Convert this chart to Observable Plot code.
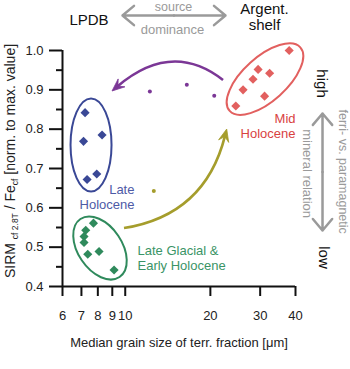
<!DOCTYPE html>
<html><head><meta charset="utf-8">
<script src="https://cdn.jsdelivr.net/npm/d3@7"></script>
<script src="https://cdn.jsdelivr.net/npm/@observablehq/plot@0.6"></script>
<style>body{margin:0;background:#fff}</style>
</head><body><div id="chart"></div>
<script>
// ---- axis ticks ----
const xTicks = [6, 7, 8, 9, 10, 20, 30, 40];
const yTicks = [0.4, 0.5, 0.6, 0.7, 0.8, 0.9, 1.0];
const yMinorTicks = [0.45, 0.55, 0.65, 0.75, 0.85, 0.95];

// ---- data: median grain size [µm] vs SIRM/Fe ratio ----
const midHoloceneGrain = [38.0, 29.5, 32.4, 28.3, 26.1, 31.1, 24.6];
const midHoloceneRatio = [1.0, 0.952, 0.942, 0.927, 0.900, 0.884, 0.859];
const lateHoloceneGrain = [7.21, 7.12, 8.28, 7.33, 7.93];
const lateHoloceneRatio = [0.842, 0.769, 0.785, 0.672, 0.686];
const lateGlacialGrain = [7.72, 7.25, 7.15, 7.15, 7.37, 8.08, 9.13];
const lateGlacialRatio = [0.561, 0.543, 0.527, 0.512, 0.482, 0.489, 0.442];
// intermediate samples (small dots)
const transitionGrain = [12.22, 16.51, 20.64];
const transitionRatio = [0.896, 0.913, 0.885];
const earlyMidGrain = [12.62];
const earlyMidRatio = [0.643];

const C = {
  red: "#e2605f", redText: "#d9423f",
  blue: "#3a4896", blueText: "#4d5aa6",
  green: "#2f8a5c", greenText: "#3a9466",
  purple: "#7b3796", olive: "#a59d2c", gray: "#9a9a9a"
};

const toRows = (xs, ys) => xs.map((x, i) => ({x, y: ys[i]}));
const midRows = toRows(midHoloceneGrain, midHoloceneRatio);
const lateRows = toRows(lateHoloceneGrain, lateHoloceneRatio);
const glacialRows = toRows(lateGlacialGrain, lateGlacialRatio);
const transRows = toRows(transitionGrain, transitionRatio);
const earlyRows = toRows(earlyMidGrain, earlyMidRatio);

// ---- annotations (data units) ----
const ellipses = [
  {x: 31.33, y: 0.926, rx: 47.5, ry: 22, angle: -42, color: C.red},
  {x: 7.60, y: 0.7585, rx: 20.5, ry: 46.5, angle: 0, color: C.blue},
  {x: 8.175, y: 0.4966, rx: 35, ry: 22, angle: 56, color: C.green}
];
const curvedArrows = [
  {x1: 22.26, y1: 0.9237, cx: 14.69, cy: 1.0254, x2: 9.016, y2: 0.8958, color: C.purple},
  {x1: 9.94, y1: 0.5474, cx: 19.22, cy: 0.5805, x2: 22.94, y2: 0.7991, color: C.olive}
];
const grayArrows = [
  {x1: 14.87, y1: 1.089, x2: 9.78, y2: 1.089},
  {x1: 14.87, y1: 1.089, x2: 22.62, y2: 1.089},
  {x1: 49.84, y1: 0.691, x2: 49.84, y2: 0.840},
  {x1: 49.84, y1: 0.691, x2: 49.84, y2: 0.5424}
];

const FONT = "'Liberation Sans', Arial, Helvetica, sans-serif";

function ellipseMark(index, {x, y}) {
  const g = d3.create("svg:g");
  for (const e of ellipses) {
    g.append("ellipse").attr("rx", e.rx).attr("ry", e.ry)
      .attr("transform", `translate(${x(e.x)},${y(e.y)}) rotate(${e.angle})`)
      .attr("fill", "none").attr("stroke", e.color).attr("stroke-width", 2);
  }
  return g.node();
}

function curvedArrowMark(index, {x, y}) {
  const g = d3.create("svg:g");
  for (const a of curvedArrows) {
    const p0 = [x(a.x1), y(a.y1)], c = [x(a.cx), y(a.cy)], p2 = [x(a.x2), y(a.y2)];
    let dx = p2[0] - c[0], dy = p2[1] - c[1];
    const len = Math.hypot(dx, dy); dx /= len; dy /= len;
    const nx = -dy, ny = dx;
    const L = 12.5, W = 5.2;
    const end = [p2[0] - dx * 7, p2[1] - dy * 7];
    g.append("path")
      .attr("d", `M${p0[0]},${p0[1]}Q${c[0]},${c[1]} ${end[0]},${end[1]}`)
      .attr("fill", "none").attr("stroke", a.color).attr("stroke-width", 2.6);
    const pts = [
      p2,
      [p2[0] - dx * L + nx * W, p2[1] - dy * L + ny * W],
      [p2[0] - dx * L * 0.62, p2[1] - dy * L * 0.62],
      [p2[0] - dx * L - nx * W, p2[1] - dy * L - ny * W]
    ];
    g.append("path").attr("d", "M" + pts.map(p => p.join(",")).join("L") + "Z")
      .attr("fill", a.color).attr("stroke", a.color).attr("stroke-width", 0.8)
      .attr("stroke-linejoin", "miter");
  }
  return g.node();
}

function yTitleMark(index, scales, values, dims) {
  const cy = (dims.marginTop + dims.height - dims.marginBottom) / 2 - 7;
  const t = d3.create("svg:text")
    .attr("transform", `translate(15,${cy}) rotate(-90)`)
    .attr("text-anchor", "middle").attr("font-size", 14).attr("fill", "#222")
    .style("white-space", "pre");
  t.append("tspan").text("SIRM ");
  t.append("tspan").attr("font-size", 8.5).attr("dy", 3).text("cf 2.8T");
  t.append("tspan").attr("dy", -3).text(" / Fe");
  t.append("tspan").attr("font-size", 8.5).attr("dy", 3).text("cf");
  t.append("tspan").attr("dy", -3).text(" [norm. to max. value]");
  return t.node();
}

const diamond = (rows, color) => Plot.dot(rows, {x: "x", y: "y", symbol: "diamond2", r: 4.1, fill: color, stroke: "none"});

const plot = Plot.plot({
  width: 350, height: 369,
  marginLeft: 62, marginRight: 55, marginTop: 50, marginBottom: 83,
  x: {type: "log", domain: [6, 40], axis: null},
  y: {domain: [0.4, 1.0]},
  style: {fontFamily: FONT, fontSize: "13px", background: "white", color: "#111"},
  marks: [
    // x axis ticks and labels (drawn through the x scale)
    Plot.ruleX(xTicks, {x: d => d, y1: 0.4, y2: 0.3746, stroke: "#111", strokeWidth: 2}),
    Plot.text(xTicks, {x: d => d, y: 0.4, dy: 33, text: d => String(d), lineAnchor: "bottom", fontSize: 13, fill: "#222"}),
    Plot.axisY(yTicks, {tickSize: 13, tickPadding: 6, strokeWidth: 2, tickFormat: d3.format(".1f"), fontSize: 13, label: null, fill: "#222"}),
    Plot.axisY(yMinorTicks, {tickSize: 6, strokeWidth: 2, tickFormat: () => "", label: null}),
    Plot.ruleX([6], {strokeWidth: 2}),
    Plot.ruleY([0.4], {strokeWidth: 2}),
    ellipseMark,
    curvedArrowMark,
    diamond(midRows, C.red),
    diamond(lateRows, C.blue),
    diamond(glacialRows, C.green),
    Plot.dot(transRows, {x: "x", y: "y", r: 2, fill: C.purple}),
    Plot.dot(earlyRows, {x: "x", y: "y", r: 2, fill: C.olive}),
    Plot.arrow(grayArrows, {x1: "x1", y1: "y1", x2: "x2", y2: "y2", stroke: C.gray, strokeWidth: 2.5, headLength: 9, headAngle: 80}),
    // group labels
    Plot.text(["Mid\nHolocene"], {x: 40, y: 0.7788, text: d => d, textAnchor: "end", lineAnchor: "bottom", lineHeight: 1.08, fontSize: 13, fill: C.redText}),
    Plot.text(["Late\nHolocene"], {x: 10.78, y: 0.5983, text: d => d, textAnchor: "end", lineAnchor: "bottom", lineHeight: 1.15, fontSize: 13, fill: C.blueText}),
    Plot.text(["Late Glacial &\nEarly Holocene"], {x: 11.05, y: 0.4432, text: d => d, textAnchor: "start", lineAnchor: "bottom", lineHeight: 1.08, fontSize: 13, fill: C.greenText}),
    // top annotations
    Plot.text(["LPDB"], {x: 7.445, y: 1.0661, text: d => d, lineAnchor: "bottom", fontSize: 15, fill: "#111"}),
    Plot.text(["Argent.\nshelf"], {x: 31.08, y: 1.0526, text: d => d, lineAnchor: "bottom", lineHeight: 1.05, fontSize: 15, fill: "#111"}),
    Plot.text(["source"], {x: 14.82, y: 1.0992, text: d => d, lineAnchor: "bottom", fontSize: 12.5, fill: C.gray}),
    Plot.text(["dominance"], {x: 14.69, y: 1.0432, text: d => d, lineAnchor: "bottom", fontSize: 13, fill: C.gray}),
    // right annotations
    Plot.text(["high"], {x: 49.4, y: 0.916, text: d => d, rotate: 90, fontSize: 15, fill: "#111"}),
    Plot.text(["low"], {x: 50.2, y: 0.4737, text: d => d, rotate: 90, fontSize: 15, fill: "#111"}),
    Plot.text(["mineral relation"], {x: 43.9, y: 0.687, text: d => d, rotate: 90, fontSize: 13, fill: C.gray}),
    Plot.text(["ferri- vs. paramagnetic"], {x: 58.8, y: 0.692, text: d => d, rotate: 90, fontSize: 12.5, fill: C.gray}),
    // axis titles
    Plot.text(["Median grain size of terr. fraction [\u03bcm]"], {frameAnchor: "bottom", dy: 60, text: d => d, lineAnchor: "bottom", fontSize: 13, fill: "#222"}),
    yTitleMark
  ]
});
document.getElementById("chart").append(plot);
</script>
</body></html>
